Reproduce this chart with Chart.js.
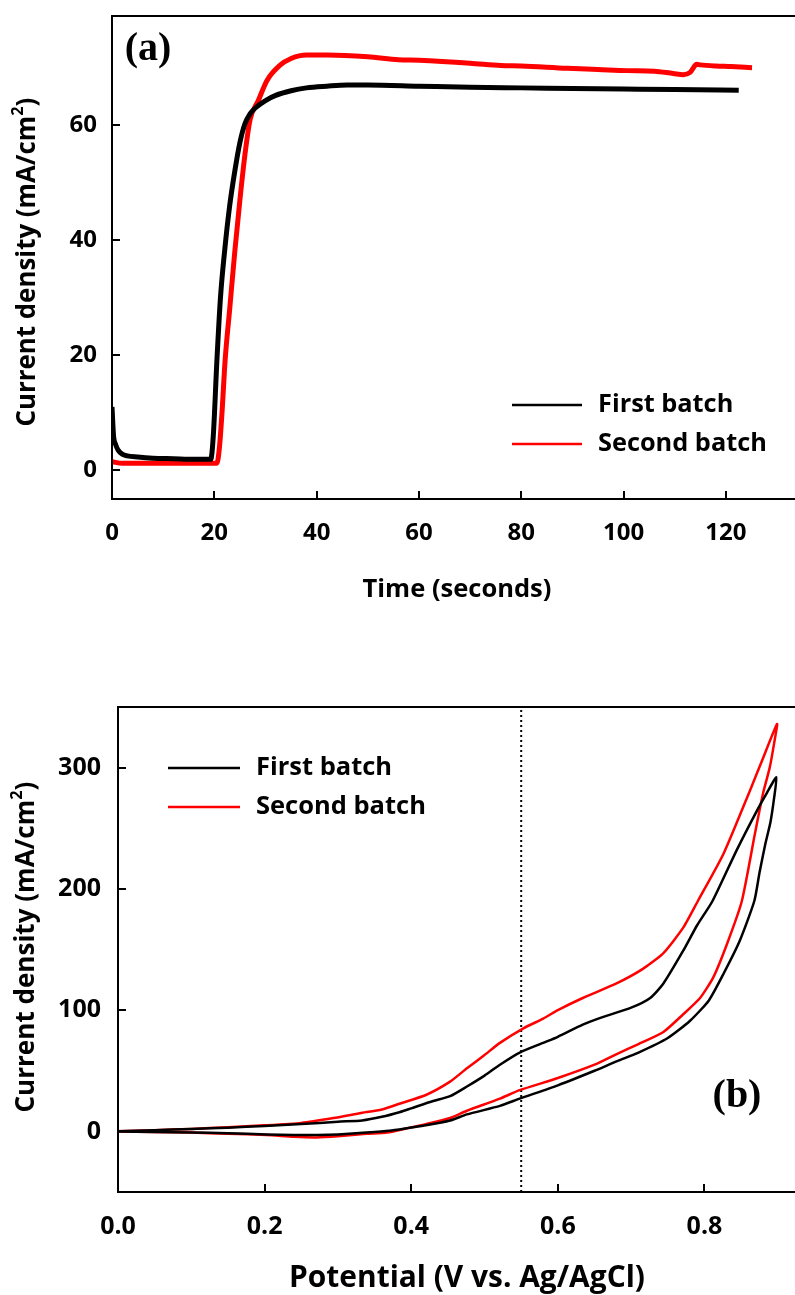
<!DOCTYPE html>
<html>
<head>
<meta charset="utf-8">
<script src="https://cdn.jsdelivr.net/npm/chart.js@4.4.1/dist/chart.umd.min.js"></script>
<style>
  html, body { margin: 0; padding: 0; background: #fff; overflow: hidden; }
  canvas { position: absolute; left: 0; }
  #chartA { top: 0; }
  #chartB { top: 650px; }
</style>
</head>
<body>
<canvas id="chartA" width="795" height="640"></canvas>
<canvas id="chartB" width="795" height="645"></canvas>
<script>
// (a) chronoamperometry
const timeFirst = [0, 0.3, 0.7, 1.2, 2, 3, 5, 8, 12, 16, 19.3, 19.8, 20.5, 21.2, 22, 23, 24, 25, 26, 27, 28, 30, 32, 35, 38, 42, 46, 50, 60, 70, 80, 90, 100, 110, 122.5];
const currentFirst = [11, 6, 4.5, 3.5, 2.8, 2.5, 2.3, 2.1, 2.0, 1.9, 1.9, 6, 19, 30, 38, 46, 52, 57, 60.3, 62, 63, 64.3, 65.2, 66, 66.5, 66.8, 67, 67, 66.8, 66.6, 66.5, 66.4, 66.3, 66.2, 66.1];
const timeSecond = [0, 2, 5, 10, 15, 20.5, 21, 21.5, 22.1, 23, 24, 25, 26, 27, 28.6, 30.3, 32.8, 35, 38, 42, 50, 56, 60, 70, 76, 80, 89, 95, 100.7, 106, 109.7, 111.7, 113, 114.3, 115, 118, 121, 125.1];
const currentSecond = [1.5, 1.2, 1.2, 1.2, 1.2, 1.2, 4, 10, 19, 28, 38, 47, 55, 61, 64.3, 67.8, 70.4, 71.6, 72.2, 72.2, 71.9, 71.4, 71.3, 70.8, 70.4, 70.3, 69.9, 69.7, 69.5, 69.4, 69.0, 68.8, 69.2, 70.6, 70.5, 70.3, 70.2, 70.0];
const timeTicks = [0, 20, 40, 60, 80, 100, 120];
const timeTickLabels = ['0', '20', '40', '60', '80', '100', '120'];
const currentTicksA = [0, 20, 40, 60];
const currentTickLabelsA = ['0', '20', '40', '60'];

// (b) cyclic voltammetry, forward branch then return branch
const potentialFirst = [0, 0.05, 0.10, 0.15, 0.20, 0.25, 0.30, 0.333, 0.36, 0.385, 0.40, 0.43, 0.453, 0.476, 0.50, 0.521, 0.548, 0.58, 0.60, 0.634, 0.66, 0.70, 0.726, 0.744, 0.771, 0.79, 0.811, 0.844, 0.872, 0.885, 0.898,
  0.895, 0.890, 0.883, 0.875, 0.868, 0.848, 0.826, 0.806, 0.78, 0.75, 0.71, 0.681, 0.65, 0.60, 0.548, 0.521, 0.476, 0.453, 0.42, 0.398, 0.37, 0.339, 0.30, 0.271, 0.24, 0.203, 0.15, 0.10, 0.05, 0];
const currentFirstB = [0, 1, 2, 3, 4.5, 6, 8, 9, 12, 16, 19, 25, 29, 37, 46, 55, 65, 73, 78, 88, 94, 102, 110, 122, 149, 170, 190, 232, 265, 279, 292,
  275, 255, 237, 213, 190, 157, 130, 108, 91, 77, 65, 58, 50, 38, 27, 21, 14, 9, 5, 3, 0.5, -1, -2.5, -3, -3, -2.5, -1.5, -1, -0.5, 0];
const potentialSecond = [0, 0.05, 0.10, 0.15, 0.20, 0.25, 0.294, 0.33, 0.36, 0.385, 0.42, 0.453, 0.476, 0.50, 0.521, 0.553, 0.58, 0.60, 0.634, 0.68, 0.716, 0.744, 0.771, 0.791, 0.826, 0.862, 0.880, 0.899,
  0.895, 0.889, 0.880, 0.869, 0.851, 0.831, 0.812, 0.794, 0.77, 0.744, 0.71, 0.681, 0.65, 0.60, 0.548, 0.521, 0.476, 0.453, 0.42, 0.398, 0.367, 0.339, 0.30, 0.271, 0.24, 0.203, 0.15, 0.10, 0.05, 0];
const currentSecondB = [0, 1, 2, 3.5, 5, 7, 11, 15, 18, 23, 30, 41, 52, 63, 73, 85, 93, 100, 110, 122, 134, 147, 168, 190, 229, 281, 308, 336,
  320, 300, 279, 246, 190, 155, 127, 110, 96, 82, 72, 64, 55, 44, 34, 27, 17, 11, 6, 3, -1, -2, -4, -5, -4.5, -3, -2, -1, -0.5, 0];
const markerPotential = [0.55, 0.55];
const markerCurrent = [-50, 350];
const potentialTicks = [0, 0.2, 0.4, 0.6, 0.8];
const potentialTickLabels = ['0.0', '0.2', '0.4', '0.6', '0.8'];
const currentTicksB = [0, 100, 200, 300];
const currentTickLabelsB = ['0', '100', '200', '300'];

const seriesLabels = ['First batch', 'Second batch'];
const FONT = '"Open Sans", Lato, sans-serif';

function toPoints(xs, ys) {
  return xs.map((x, i) => ({ x: x, y: ys[i] }));
}

// font size that makes text span the given width
function fitSize(ctx, text, width) {
  ctx.font = 'bold 100px ' + FONT;
  return 100 * width / ctx.measureText(text).width;
}

const framePlugin = {
  id: 'frame',
  afterDraw(chart, args, o) {
    const ctx = chart.ctx;
    const area = chart.chartArea;
    const xs = chart.scales.x, ys = chart.scales.y;
    ctx.save();
    ctx.strokeStyle = '#000';
    ctx.fillStyle = '#000';
    ctx.lineWidth = 2;
    ctx.beginPath();
    ctx.moveTo(area.right, area.top);
    ctx.lineTo(area.left, area.top);
    ctx.lineTo(area.left, area.bottom);
    ctx.lineTo(area.right, area.bottom);
    ctx.stroke();

    // inward tick marks
    ctx.beginPath();
    o.yTicks.forEach(v => {
      const p = Math.round(ys.getPixelForValue(v));
      ctx.moveTo(area.left, p);
      ctx.lineTo(area.left + 8, p);
    });
    o.xTicks.forEach(v => {
      const p = Math.round(xs.getPixelForValue(v));
      ctx.moveTo(p, area.bottom);
      ctx.lineTo(p, area.bottom - 8);
    });
    ctx.stroke();

    // tick labels
    ctx.font = 'bold ' + o.tickSize + 'px ' + FONT;
    ctx.textBaseline = 'middle';
    ctx.textAlign = 'right';
    o.yTicks.forEach((v, i) => ctx.fillText(o.yLabels[i], o.yLabelRight, ys.getPixelForValue(v)));
    ctx.textAlign = 'center';
    o.xTicks.forEach((v, i) => ctx.fillText(o.xLabels[i], xs.getPixelForValue(v), o.xLabelY));

    // axis titles
    const xs1 = fitSize(ctx, o.xTitle, o.xTitleW);
    ctx.font = 'bold ' + xs1 + 'px ' + FONT;
    ctx.fillText(o.xTitle, o.xTitleX, o.xTitleY);

    const main = 'Current density (mA/cm';
    ctx.font = 'bold 100px ' + FONT;
    const supW = ctx.measureText('2').width * 0.62;
    const base = ctx.measureText(main + ')').width + supW;
    const ts = 100 * o.yTitleW / base;
    const big = 'bold ' + ts + 'px ' + FONT;
    const sup = 'bold ' + (ts * 0.62) + 'px ' + FONT;
    ctx.font = big;
    const w1 = ctx.measureText(main).width;
    ctx.font = sup;
    const w2 = ctx.measureText('2').width;
    ctx.translate(o.yTitleX, o.yTitleY);
    ctx.rotate(-Math.PI / 2);
    ctx.textAlign = 'left';
    ctx.font = big;
    ctx.fillText(main, -o.yTitleW / 2, 0);
    ctx.font = sup;
    ctx.fillText('2', -o.yTitleW / 2 + w1, -ts * 0.38);
    ctx.font = big;
    ctx.fillText(')', -o.yTitleW / 2 + w1 + w2, 0);
    ctx.setTransform(1, 0, 0, 1, 0, 0);

    // legend
    const ls = fitSize(ctx, seriesLabels[1], o.legendW);
    ctx.font = 'bold ' + ls + 'px ' + FONT;
    ctx.textAlign = 'left';
    for (let i = 0; i < 2; i++) {
      const ds = chart.data.datasets[i];
      const y = o.legendY + i * o.legendGap;
      ctx.strokeStyle = ds.borderColor;
      ctx.lineWidth = 2.5;
      ctx.beginPath();
      ctx.moveTo(o.legendX, y);
      ctx.lineTo(o.legendX + o.legendLen, y);
      ctx.stroke();
      ctx.fillText(ds.label, o.legendX + o.legendLen + 16, y);
    }

    // panel letter
    ctx.font = 'bold 40px "Liberation Serif", "Times New Roman", serif';
    ctx.textAlign = 'center';
    ctx.fillText(o.panel, o.panelX, o.panelY);
    ctx.restore();
  }
};

function baseOptions(xMin, xMax, yMin, yMax, yWidth, xHeight, padTop, frame) {
  return {
    responsive: false,
    animation: false,
    layout: { padding: { left: 0, right: 0, top: padTop, bottom: 0 } },
    plugins: { legend: { display: false }, tooltip: { enabled: false }, frame: frame },
    elements: { point: { radius: 0 } },
    scales: {
      x: {
        type: 'linear', min: xMin, max: xMax,
        grid: { display: false, drawTicks: false }, border: { display: false },
        ticks: { display: false },
        afterFit(scale) { scale.height = xHeight; }
      },
      y: {
        type: 'linear', min: yMin, max: yMax,
        grid: { display: false, drawTicks: false }, border: { display: false },
        ticks: { display: false },
        afterFit(scale) { scale.width = yWidth; }
      }
    }
  };
}

new Chart(document.getElementById('chartA'), {
  type: 'scatter',
  data: {
    datasets: [
      { label: seriesLabels[0], data: toPoints(timeFirst, currentFirst), showLine: true, borderColor: '#000000', borderWidth: 5, cubicInterpolationMode: 'monotone' },
      { label: seriesLabels[1], data: toPoints(timeSecond, currentSecond), showLine: true, borderColor: '#ff0000', borderWidth: 5, cubicInterpolationMode: 'monotone' }
    ]
  },
  options: baseOptions(0, 133.5, -5, 79, 112, 141, 16, {
    xTicks: timeTicks, xLabels: timeTickLabels, yTicks: currentTicksA, yLabels: currentTickLabelsA,
    tickSize: 24,
    yLabelRight: 97, xLabelY: 533, xTitle: 'Time (seconds)', xTitleW: 189, xTitleX: 457, xTitleY: 590,
    yTitleX: 28, yTitleY: 262, yTitleW: 329,
    legendX: 512, legendY: 405, legendGap: 39, legendLen: 70, legendW: 169,
    panel: '(a)', panelX: 148, panelY: 50
  }),
  plugins: [framePlugin]
});

new Chart(document.getElementById('chartB'), {
  type: 'scatter',
  data: {
    datasets: [
      { label: seriesLabels[0], data: toPoints(potentialFirst, currentFirstB), showLine: true, borderColor: '#000000', borderWidth: 2.5, tension: 0.2 },
      { label: seriesLabels[1], data: toPoints(potentialSecond, currentSecondB), showLine: true, borderColor: '#ff0000', borderWidth: 2.5, tension: 0.2 },
      { label: 'marker', data: toPoints(markerPotential, markerCurrent), showLine: true, borderColor: '#000000', borderWidth: 2, borderDash: [2, 3], tension: 0 }
    ]
  },
  options: baseOptions(0, 0.9235, -50, 350, 118, 103, 57, {
    xTicks: potentialTicks, xLabels: potentialTickLabels, yTicks: currentTicksB, yLabels: currentTickLabelsB,
    tickSize: 25,
    yLabelRight: 101, xLabelY: 577, xTitle: 'Potential (V vs. Ag/AgCl)', xTitleW: 356, xTitleX: 467, xTitleY: 628,
    yTitleX: 27, yTitleY: 297, yTitleW: 331,
    legendX: 168, legendY: 118, legendGap: 39, legendLen: 72, legendW: 170,
    panel: '(b)', panelX: 737, panelY: 447
  }),
  plugins: [framePlugin]
});
</script>
</body>
</html>
